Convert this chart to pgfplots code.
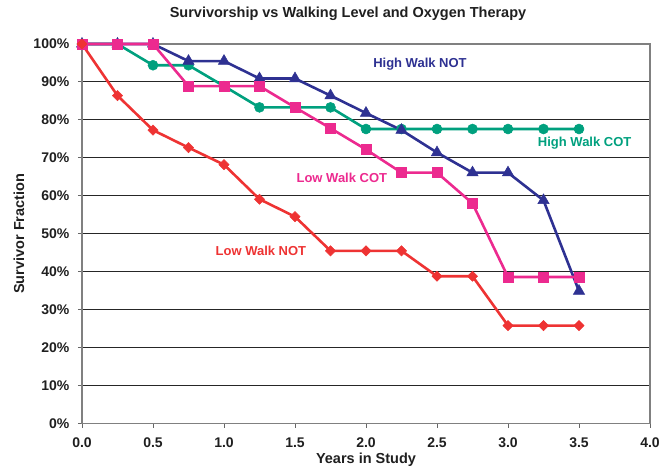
\documentclass[border=0pt]{standalone}
\usepackage{pgfplots}
\pgfplotsset{compat=1.18}
\usepackage{fontspec}
\setmainfont{Liberation Sans}
\definecolor{cred}{HTML}{EE3333}
\definecolor{cmag}{HTML}{EC2A8F}
\definecolor{cgreen}{HTML}{00A07E}
\definecolor{cblue}{HTML}{2E3192}
\begin{document}
\begin{tikzpicture}
\path[use as bounding box] (-82pt,-50.5pt) rectangle (583pt,423.5pt);
\begin{axis}[
  at={(0pt,0pt)}, anchor=south west,
  scale only axis, width=568pt, height=379.5pt,
  xmin=0, xmax=4, ymin=0, ymax=100,
  xtick={0,0.5,...,4}, ytick={0,10,...,100},
  xticklabels={0.0,0.5,1.0,1.5,2.0,2.5,3.0,3.5,4.0},
  yticklabels={0\%,10\%,20\%,30\%,40\%,50\%,60\%,70\%,80\%,90\%,100\%},
  ymajorgrids, major grid style={black!85, line width=0.9pt},
  axis line style={black!50, line width=1.3pt},
  tick style={black!60, line width=0.9pt},
  tick align=outside, major tick length=4pt,
  xtick pos=bottom, ytick pos=left,
  tick label style={font=\fontsize{14}{15}\selectfont\bfseries, text=black!88, inner sep=0pt},
  xticklabel style={anchor=north, yshift=-10pt},
  yticklabel style={anchor=east, xshift=-8.5pt},
  title={Survivorship vs Walking Level and Oxygen Therapy},
  title style={font=\fontsize{14.5}{15}\selectfont\bfseries, text=black!88, inner sep=0pt,
    at={(axis description cs:0.4683,1.0528)}, anchor=base},
  xlabel={Years in Study},
  ylabel={Survivor Fraction},
  xlabel style={font=\fontsize{14.5}{15}\selectfont\bfseries, text=black!88, inner sep=0pt,
    at={(axis description cs:0.5,-0.1055)}, anchor=base},
  ylabel style={font=\fontsize{14.5}{15}\selectfont\bfseries, text=black!88, inner sep=0pt,
    at={(axis description cs:-0.1021,0.5)}, anchor=base, rotate=0},
  every axis plot/.append style={line width=2.6pt},
  clip=false,
]
\addplot[cgreen, mark=*, mark size=5pt, mark options={solid, line width=0.5pt}] coordinates {
(0,100)(0.25,100)(0.5,94.4)(0.75,94.4)(1.0,88.9)(1.25,83.3)(1.5,83.3)(1.75,83.3)
(2.0,77.6)(2.25,77.6)(2.5,77.6)(2.75,77.6)(3.0,77.6)(3.25,77.6)(3.5,77.6)};
\addplot[cblue, mark=triangle*, mark size=6.5pt, mark options={solid, line width=0.5pt}] coordinates {
(0,100)(0.25,100)(0.5,100)(0.75,95.5)(1.0,95.5)(1.25,90.9)(1.5,90.9)(1.75,86.4)
(2.0,81.8)(2.25,77.3)(2.5,71.4)(2.75,66.1)(3.0,66.1)(3.25,58.8)(3.5,34.9)};
\addplot[cmag, mark=square*, mark size=5pt, mark options={solid, line width=0.5pt}] coordinates {
(0,100)(0.25,100)(0.5,100)(0.75,88.9)(1.0,88.9)(1.25,88.9)(1.5,83.3)(1.75,77.8)
(2.0,72.2)(2.25,66.1)(2.5,66.1)(2.75,58.0)(3.0,38.6)(3.25,38.6)(3.5,38.6)};
\addplot[cred, mark=square*, mark size=3.6pt, mark options={solid, rotate=45, line width=0.5pt}] coordinates {
(0,100)(0.25,86.4)(0.5,77.3)(0.75,72.7)(1.0,68.2)(1.25,59.1)(1.5,54.5)(1.75,45.5)
(2.0,45.5)(2.25,45.5)(2.5,38.8)(2.75,38.8)(3.0,25.8)(3.25,25.8)(3.5,25.8)};
\node[cblue, font=\fontsize{13}{14}\selectfont\bfseries] at (axis cs:2.38,94.7) {High Walk NOT};
\node[cgreen, font=\fontsize{13}{14}\selectfont\bfseries] at (axis cs:3.54,73.9) {High Walk COT};
\node[cmag, font=\fontsize{13}{14}\selectfont\bfseries] at (axis cs:1.83,64.6) {Low Walk COT};
\node[cred, font=\fontsize{13}{14}\selectfont\bfseries] at (axis cs:1.26,45.5) {Low Walk NOT};
\end{axis}
\end{tikzpicture}
\end{document}
